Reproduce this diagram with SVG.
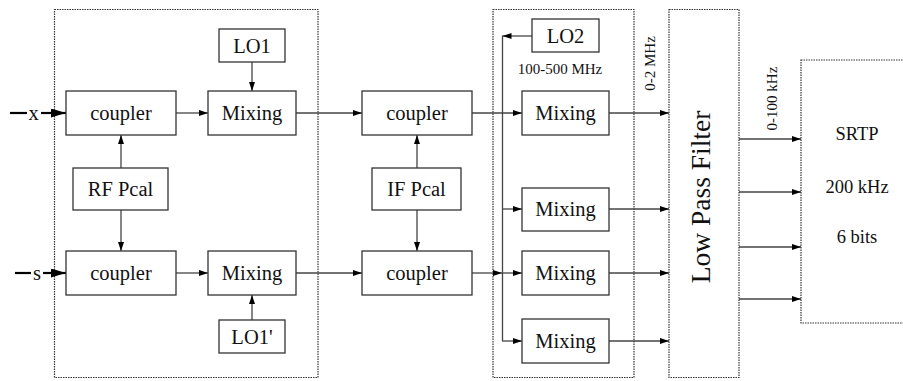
<svg xmlns="http://www.w3.org/2000/svg" width="903" height="381" viewBox="0 0 903 381">
<style>
.box{fill:#fff;stroke:#333;stroke-width:1.3}
.dot{fill:none;stroke:#333;stroke-width:1.2;stroke-dasharray:1.5,1}
.t{font-family:"Liberation Serif","Times New Roman",serif;font-size:20.5px;fill:#111;text-anchor:middle}
.s{font-family:"Liberation Serif","Times New Roman",serif;font-size:15px;fill:#111;text-anchor:middle}
.c{fill:none;stroke:#444;stroke-width:1.3}
.ci{fill:none;stroke:#000;stroke-width:2.2}
</style>
<defs>
<marker id="a" markerUnits="userSpaceOnUse" markerWidth="10" markerHeight="8" refX="9" refY="3" orient="auto"><path d="M0,0 L9,3 L0,6 z" fill="#000"/></marker>
<marker id="b" markerUnits="userSpaceOnUse" markerWidth="16" markerHeight="10" refX="15" refY="4.5" orient="auto"><path d="M0,0 L15,4.5 L0,9 z" fill="#000"/></marker>
</defs>
<g id="frames">
<rect class="dot" x="54.5" y="9.5" width="263.5" height="368"/>
<rect class="dot" x="493" y="9.5" width="141" height="368"/>
</g>
<g id="connectors">
<line class="ci" x1="10" y1="113" x2="27" y2="113"/>
<line class="ci" x1="41" y1="113" x2="66" y2="113" marker-end="url(#b)"/>
<line class="ci" x1="15" y1="273" x2="31" y2="273"/>
<line class="ci" x1="43" y1="273" x2="66" y2="273" marker-end="url(#b)"/>
<line class="c" x1="176" y1="113" x2="208" y2="113" marker-end="url(#a)"/>
<line class="c" x1="176" y1="273" x2="208" y2="273" marker-end="url(#a)"/>
<line class="c" x1="252" y1="62" x2="252" y2="91" marker-end="url(#a)"/>
<line class="c" x1="252" y1="320" x2="252" y2="295" marker-end="url(#a)"/>
<line class="c" x1="121" y1="168" x2="121" y2="135" marker-end="url(#a)"/>
<line class="c" x1="121" y1="210" x2="121" y2="251" marker-end="url(#a)"/>
<line class="c" x1="417" y1="168" x2="417" y2="135" marker-end="url(#a)"/>
<line class="c" x1="417" y1="210" x2="417" y2="251" marker-end="url(#a)"/>
<line class="c" x1="296" y1="113" x2="362" y2="113" marker-end="url(#a)"/>
<line class="c" x1="296" y1="273" x2="362" y2="273" marker-end="url(#a)"/>
<line class="c" x1="472" y1="113" x2="522" y2="113" marker-end="url(#a)"/>
<line class="c" x1="472" y1="273" x2="502" y2="273" marker-end="url(#a)"/>
<line class="c" x1="532" y1="36" x2="502.5" y2="36" marker-end="url(#a)"/>
<line class="c" x1="502.5" y1="35.5" x2="502.5" y2="341"/>
<line class="c" x1="502" y1="209" x2="522" y2="209" marker-end="url(#a)"/>
<line class="c" x1="502" y1="273" x2="522" y2="273" marker-end="url(#a)"/>
<line class="c" x1="502" y1="341" x2="522" y2="341" marker-end="url(#a)"/>
<line class="c" x1="609" y1="113" x2="669" y2="113" marker-end="url(#a)"/>
<line class="c" x1="609" y1="209" x2="669" y2="209" marker-end="url(#a)"/>
<line class="c" x1="609" y1="273" x2="669" y2="273" marker-end="url(#a)"/>
<line class="c" x1="609" y1="341" x2="669" y2="341" marker-end="url(#a)"/>
<line class="c" x1="739" y1="139" x2="801" y2="139" marker-end="url(#a)"/>
<line class="c" x1="739" y1="192" x2="801" y2="192" marker-end="url(#a)"/>
<line class="c" x1="739" y1="247" x2="801" y2="247" marker-end="url(#a)"/>
<line class="c" x1="739" y1="299" x2="801" y2="299" marker-end="url(#a)"/>
</g>
<g id="labels">
<text class="t" x="33.5" y="120">x</text>
<text class="t" x="37" y="280">s</text>
<text class="s" x="560" y="74">100-500 MHz</text>
<text class="s" transform="translate(655,63.5) rotate(-90)">0-2 MHz</text>
<text class="s" transform="translate(777,98.5) rotate(-90)">0-100 kHz</text>
</g>
<g id="coupler1"><rect class="box" x="66" y="91" width="110" height="44"/><text class="t" x="121" y="119.5">coupler</text></g>
<g id="mixing1"><rect class="box" x="208" y="91" width="88" height="44"/><text class="t" x="252" y="119.5">Mixing</text></g>
<g id="lo1"><rect class="box" x="219" y="29" width="66" height="33"/><text class="t" x="252" y="52.5">LO1</text></g>
<g id="rfpcal"><rect class="box" x="73" y="168" width="95" height="42"/><text class="t" x="120.5" y="196">RF Pcal</text></g>
<g id="coupler2"><rect class="box" x="66" y="251" width="110" height="44"/><text class="t" x="121" y="279.5">coupler</text></g>
<g id="mixing2"><rect class="box" x="208" y="251" width="88" height="44"/><text class="t" x="252" y="279.5">Mixing</text></g>
<g id="lo1p"><rect class="box" x="219" y="320" width="66" height="33"/><text class="t" x="252" y="343.5">LO1'</text></g>
<g id="coupler3"><rect class="box" x="362" y="91" width="110" height="44"/><text class="t" x="417" y="119.5">coupler</text></g>
<g id="ifpcal"><rect class="box" x="372" y="168" width="89" height="42"/><text class="t" x="416.5" y="196">IF Pcal</text></g>
<g id="coupler4"><rect class="box" x="362" y="251" width="110" height="44"/><text class="t" x="417" y="279.5">coupler</text></g>
<g id="lo2"><rect class="box" x="532" y="19" width="67" height="33"/><text class="t" x="565.5" y="42.5">LO2</text></g>
<g id="mixingA"><rect class="box" x="522" y="91" width="87" height="44"/><text class="t" x="565.5" y="119.5">Mixing</text></g>
<g id="mixingB"><rect class="box" x="522" y="188" width="87" height="43"/><text class="t" x="565.5" y="216">Mixing</text></g>
<g id="mixingC"><rect class="box" x="522" y="251" width="87" height="44"/><text class="t" x="565.5" y="279.5">Mixing</text></g>
<g id="mixingD"><rect class="box" x="522" y="319" width="87" height="44"/><text class="t" x="565.5" y="347.5">Mixing</text></g>
<g id="lpf"><rect class="dot" x="669" y="9.5" width="70" height="368"/><text class="t" style="font-size:27.5px" transform="translate(710,197) rotate(-90)">Low Pass Filter</text></g>
<g id="srtp"><rect class="dot" x="801" y="60" width="110" height="263"/>
<text class="t" style="font-size:18.5px" x="857" y="140">SRTP</text>
<text class="t" style="font-size:18.5px" x="857" y="193">200 kHz</text>
<text class="t" style="font-size:18.5px" x="857" y="243">6 bits</text></g>
</svg>
